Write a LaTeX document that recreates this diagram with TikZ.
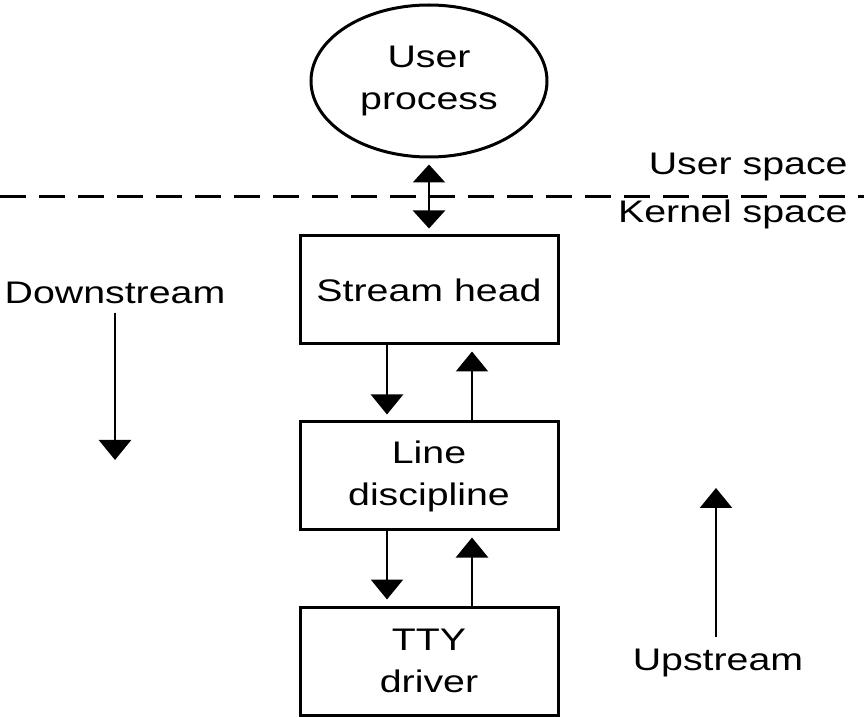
\documentclass[tikz,border=0pt]{standalone}
\usepackage{fontspec}
\setmainfont{Liberation Sans}[FakeStretch=1.26]
\usetikzlibrary{arrows.meta,shapes.geometric}

\begin{document}
\begin{tikzpicture}[
				x=0.5pt, y=-0.5pt,
				every node/.style={font=\fontsize{15.6}{21}\selectfont, align=center},
				layer/.style={draw, line width=1.5pt, rectangle, minimum width=129pt, minimum height=54pt, inner sep=0pt},
				proc/.style={draw, line width=1.5pt, ellipse, minimum width=118pt, minimum height=76pt, inner sep=0pt},
				flow/.style={line width=1.3pt, -{Triangle[width=16pt,length=10pt]}},
				both/.style={line width=1.3pt, {Triangle[width=16pt,length=9pt]}-{Triangle[width=16pt,length=9pt]}}
				]
				
				\useasboundingbox (0,0) rectangle (864,717);
				
				\begin{scope}
				\node[proc] (user) at (429,81) {User\\process};
				
				\draw[line width=1.5pt, dash pattern=on 13pt off 6.5pt] (0,197) coordinate (l1) -- (864,197) coordinate (l2);
				\node[anchor=base east, inner sep=0pt] (us) at (848,175) {User space};
				\node[anchor=base east, inner sep=0pt] (ks) at (848,223) {Kernel space};
				
				\node[layer] (head) at (429,290) {Stream head};
				\node[layer] (disc) at (429,476) {Line\\discipline};
				\node[layer] (tty) at (429,661) {TTY\\driver};
				
				\draw[both] ([yshift=-3pt]user.south) -- ([yshift=3pt]head.north);
				
				\draw[flow] ([xshift=-21pt]head.south) -- ([xshift=-21pt,yshift=3pt]disc.north);
				\draw[flow] ([xshift=21.5pt]disc.north) -- ([xshift=21.5pt,yshift=-3pt]head.south);
				\draw[flow] ([xshift=-21pt]disc.south) -- ([xshift=-21pt,yshift=3pt]tty.north);
				\draw[flow] ([xshift=21.5pt]tty.north) -- ([xshift=21.5pt,yshift=-3pt]disc.south);
				\end{scope}
				
				\begin{scope}
				\node[anchor=base, inner sep=0pt] (down) at (115,304) {Downstream};
				\coordinate (dtip) at (115,460);
				\draw[flow] ([yshift=-4pt]down.south) -- (dtip);
				
				\node[anchor=base, inner sep=0pt] (up) at (718,670) {Upstream};
				\coordinate (utip) at (716,488);
				\draw[flow] ([xshift=-1pt,yshift=5.5pt]up.north) -- (utip);
				\end{scope}
				\end{tikzpicture}
\end{document}
